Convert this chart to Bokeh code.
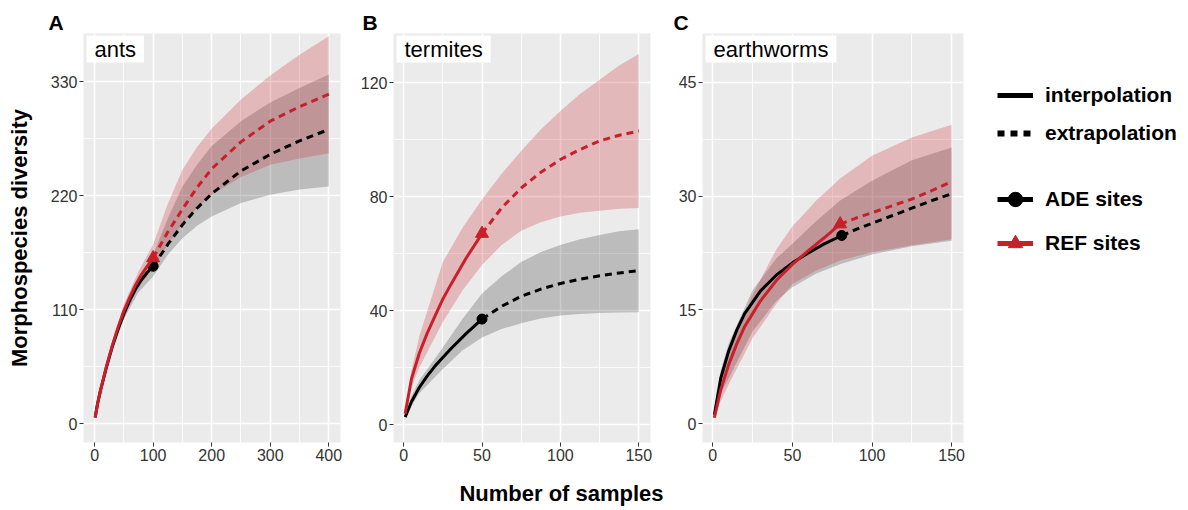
from bokeh.plotting import figure
from bokeh.layouts import row, column
from bokeh.models import FixedTicker, Label, Legend, LegendItem, Range1d
from bokeh.embed import file_html
from bokeh.resources import INLINE

# ---------------- data ----------------
# A: ants
ants_ade_int_x = [1, 5, 10, 20, 30, 40, 50, 60, 70, 80, 90, 100]
ants_ade_int_y = [6, 19, 32, 54, 74, 91, 106, 119, 130, 139, 146, 152]
ants_ref_int_x = [1, 5, 10, 20, 30, 40, 50, 60, 70, 80, 90, 100]
ants_ref_int_y = [6, 19, 32, 55, 75, 93, 109, 122, 134, 144, 152, 160]
ants_ade_ext_x = [100, 125, 150, 175, 200, 250, 300, 350, 400]
ants_ade_ext_y = [152, 173, 192, 208, 222, 244, 260, 273, 284]
ants_ref_ext_x = [100, 125, 150, 175, 200, 250, 300, 350, 400]
ants_ref_ext_y = [160, 185, 207, 228, 246, 272, 292, 306, 318]
ants_band_x = [1, 25, 50, 75, 100, 125, 150, 175, 200, 250, 300, 350, 400]
ants_ref_lo = [6, 62, 104, 132, 150, 173, 193, 208, 221, 238, 250, 256, 261]
ants_ref_hi = [6, 68, 115, 147, 173, 212, 245, 267, 285, 313, 336, 356, 374]
ants_ade_lo = [6, 62, 101, 127, 142, 163, 179, 191, 200, 213, 221, 226, 229]
ants_ade_hi = [6, 67, 111, 141, 163, 198, 229, 250, 268, 292, 310, 324, 337]

# B: termites
term_ade_int_x = [1, 5, 10, 15, 20, 25, 30, 40, 50]
term_ade_int_y = [2.6, 8, 13, 17, 20.5, 23.5, 26.5, 32, 37]
term_ref_int_x = [1, 5, 10, 15, 20, 25, 30, 40, 50]
term_ref_int_y = [3.8, 16, 25, 32, 38, 44, 49, 58.5, 67]
term_ade_ext_x = [50, 62.5, 75, 87.5, 100, 112.5, 125, 137.5, 150]
term_ade_ext_y = [37, 41.5, 45, 47.5, 49.5, 51, 52.2, 53.2, 54]
term_ref_ext_x = [50, 62.5, 75, 87.5, 100, 112.5, 125, 137.5, 150]
term_ref_ext_y = [67, 76, 83, 88.5, 93, 96.5, 99.5, 101.5, 103]
term_band_x = [1, 5, 10, 25, 37.5, 50, 62.5, 75, 87.5, 100, 112.5, 125, 137.5, 150]
term_ref_lo = [3.8, 13, 20, 36, 47, 56, 63, 68, 71, 73, 74.3, 75, 75.7, 76]
term_ref_hi = [3.8, 19, 31, 57, 69, 79, 88, 96, 103.5, 110, 116, 121, 126, 130]
term_ade_lo = [2.6, 6.5, 11, 19.5, 26, 30.5, 33.5, 35.5, 37.2, 38.3, 38.8, 39.1, 39.3, 39.4]
term_ade_hi = [2.6, 10, 15.5, 27, 37, 46, 52, 57, 60.5, 63, 65, 66.5, 67.8, 68.5]

# C: earthworms
ew_ade_int_x = [1, 5, 10, 15, 20, 30, 40, 50, 60, 70, 81]
ew_ade_int_y = [1.2, 6, 9.6, 12.3, 14.5, 17.5, 19.6, 21.2, 22.5, 23.7, 24.8]
ew_ref_int_x = [1, 5, 10, 15, 20, 30, 40, 50, 60, 70, 80]
ew_ref_int_y = [0.8, 4.5, 7.8, 10.5, 12.8, 16.2, 18.9, 21.0, 22.8, 24.5, 26.3]
ew_ade_ext_x = [81, 90, 100, 112.5, 125, 137.5, 150]
ew_ade_ext_y = [24.8, 25.6, 26.4, 27.4, 28.4, 29.4, 30.3]
ew_ref_ext_x = [80, 90, 100, 112.5, 125, 137.5, 150]
ew_ref_ext_y = [26.3, 27.1, 27.8, 28.7, 29.6, 30.7, 31.9]
ew_band_x = [1, 5, 10, 25, 40, 50, 65, 80, 100, 125, 150]
ew_ref_lo = [0.8, 3, 5.2, 11.3, 15.8, 18.4, 20.2, 21.5, 22.6, 23.5, 24.3]
ew_ref_hi = [0.8, 5.8, 9.5, 17.0, 23.0, 26.0, 29.4, 32.3, 35.3, 37.7, 39.4]
ew_ade_lo = [1.2, 4, 6, 12.2, 16.2, 18, 19.8, 21, 22.3, 23.4, 24.1]
ew_ade_hi = [1.2, 7, 10.6, 17.6, 21.8, 23.7, 26.7, 29.4, 32, 34.7, 36.4]

# ticks
ants_xticks, ants_xminor = [0, 100, 200, 300, 400], [50, 150, 250, 350]
ants_yticks, ants_yminor = [0, 110, 220, 330], [55, 165, 275]
term_xticks, term_xminor = [0, 50, 100, 150], [25, 75, 125]
term_yticks, term_yminor = [0, 40, 80, 120], [20, 60, 100]
ew_xticks, ew_xminor = [0, 50, 100, 150], [25, 75, 125]
ew_yticks, ew_yminor = [0, 15, 30, 45], [7.5, 22.5, 37.5]

panel_names = ["ants", "termites", "earthworms"]
panel_letters = ["A", "B", "C"]
legend_line_labels = ["interpolation", "extrapolation"]
legend_site_labels = ["ADE sites", "REF sites"]

RED = "#C8202A"
BG = "#EBEBEB"
FONT = "Liberation Sans"
TXT = "#333333"
ROW_H = 439


def panel(width, bl, br, xr, yr, xt, xm, yt, ym, name, d, ylabel=None):
    p = figure(width=width, height=ROW_H, x_range=Range1d(*xr), y_range=Range1d(*yr),
               output_backend="svg", toolbar_location=None,
               min_border_left=bl, min_border_right=br, min_border_top=0, min_border_bottom=30)
    p.background_fill_color = BG
    p.border_fill_color = "white"
    p.outline_line_color = None
    xtk = FixedTicker(ticks=xt, minor_ticks=xm)
    ytk = FixedTicker(ticks=yt, minor_ticks=ym)
    p.xaxis.ticker = xtk
    p.yaxis.ticker = ytk
    p.xgrid.ticker = xtk
    p.ygrid.ticker = ytk
    for g in (p.xgrid[0], p.ygrid[0]):
        g.grid_line_color = "white"
        g.grid_line_width = 1.6
        g.minor_grid_line_color = "white"
        g.minor_grid_line_width = 0.8
    for ax in (p.xaxis[0], p.yaxis[0]):
        ax.axis_line_color = None
        ax.major_tick_line_color = TXT
        ax.major_tick_out = 4
        ax.major_tick_in = 0
        ax.minor_tick_line_color = None
        ax.major_label_text_font = FONT
        ax.major_label_text_font_size = "16px"
        ax.major_label_text_color = TXT
        ax.major_label_standoff = 2
    if ylabel:
        p.yaxis.axis_label = ylabel
        p.yaxis.axis_label_text_font = FONT
        p.yaxis.axis_label_text_font_style = "bold"
        p.yaxis.axis_label_text_font_size = "22px"
        p.yaxis.axis_label_text_color = "black"
        p.yaxis.axis_label_standoff = 16

    p.varea(x=d["bx"], y1=d["alo"], y2=d["ahi"], fill_color="black", fill_alpha=0.2)
    p.varea(x=d["bx"], y1=d["rlo"], y2=d["rhi"], fill_color=RED, fill_alpha=0.25)
    p.line(d["aix"], d["aiy"], line_color="black", line_width=3)
    p.line(d["aex"], d["aey"], line_color="black", line_width=3, line_dash="7 5")
    p.scatter([d["aix"][-1]], [d["aiy"][-1]], marker="circle", size=10, color="black")
    p.line(d["rix"], d["riy"], line_color=RED, line_width=3)
    p.line(d["rex"], d["rey"], line_color=RED, line_width=3, line_dash="7 5")
    p.scatter([d["rix"][-1]], [d["riy"][-1]], marker="triangle", size=13, color=RED)

    p.add_layout(Label(x=3, y=ROW_H - 30 - 2, x_units="screen", y_units="screen", text=name,
                       text_font=FONT, text_font_size="22px", text_color="black",
                       text_baseline="top", background_fill_color="white",
                       padding=dict(left=8, right=8, top=1, bottom=1)))
    return p


pA = panel(350, 83, 10, (-18.95, 419.95), (-18.1, 376.6), ants_xticks, ants_xminor,
           ants_yticks, ants_yminor, panel_names[0],
           dict(bx=ants_band_x, alo=ants_ade_lo, ahi=ants_ade_hi, rlo=ants_ref_lo, rhi=ants_ref_hi,
                aix=ants_ade_int_x, aiy=ants_ade_int_y, aex=ants_ade_ext_x, aey=ants_ade_ext_y,
                rix=ants_ref_int_x, riy=ants_ref_int_y, rex=ants_ref_ext_x, rey=ants_ref_ext_y),
           ylabel="Morphospecies diversity")
pB = panel(310, 43, 10, (-6.45, 157.45), (-6.3, 137.2), term_xticks, term_xminor,
           term_yticks, term_yminor, panel_names[1],
           dict(bx=term_band_x, alo=term_ade_lo, ahi=term_ade_hi, rlo=term_ref_lo, rhi=term_ref_hi,
                aix=term_ade_int_x, aiy=term_ade_int_y, aex=term_ade_ext_x, aey=term_ade_ext_y,
                rix=term_ref_int_x, riy=term_ref_int_y, rex=term_ref_ext_x, rey=term_ref_ext_y))
pC = panel(315, 42, 12, (-6.45, 157.45), (-2.46, 51.4), ew_xticks, ew_xminor,
           ew_yticks, ew_yminor, panel_names[2],
           dict(bx=ew_band_x, alo=ew_ade_lo, ahi=ew_ade_hi, rlo=ew_ref_lo, rhi=ew_ref_hi,
                aix=ew_ade_int_x, aiy=ew_ade_int_y, aex=ew_ade_ext_x, aey=ew_ade_ext_y,
                rix=ew_ref_int_x, riy=ew_ref_int_y, rex=ew_ref_ext_x, rey=ew_ref_ext_y))

# ---------------- legend panel ----------------
lg = figure(width=212, height=ROW_H, x_range=Range1d(0, 1), y_range=Range1d(0, 1),
            x_axis_location=None, y_axis_location=None, min_border=0,
            output_backend="svg", toolbar_location=None)
lg.outline_line_color = None
lg.grid.visible = False
lg.background_fill_color = "white"
proxy = [-5]  # off-range proxy point so legend glyphs get drawn
r1 = lg.line(x=proxy, y=proxy, line_color="black", line_width=5)
r2 = lg.line(x=proxy, y=proxy, line_color="black", line_width=6, line_dash="7 6")
r3 = lg.line(x=proxy, y=proxy, line_color="black", line_width=5)
r3m = lg.scatter(x=proxy, y=proxy, marker="circle", color="black")
r4 = lg.line(x=proxy, y=proxy, line_color=RED, line_width=5)
r4m = lg.scatter(x=proxy, y=proxy, marker="triangle", color=RED)

common = dict(border_line_color=None, background_fill_alpha=0, padding=0, margin=0,
              glyph_width=36, label_standoff=12, label_text_font=FONT,
              label_text_font_size="21px", label_text_font_style="bold",
              label_text_color="black")
leg1 = Legend(items=[LegendItem(label=legend_line_labels[0], renderers=[r1]),
                     LegendItem(label=legend_line_labels[1], renderers=[r2])],
              location=(22, 297), glyph_height=24, label_height=24, spacing=14, **common)
leg2 = Legend(items=[LegendItem(label=legend_site_labels[0], renderers=[r3, r3m]),
                     LegendItem(label=legend_site_labels[1], renderers=[r4, r4m])],
              location=(22, 178), glyph_height=42, label_height=42, spacing=2, **common)
lg.add_layout(leg1)
lg.add_layout(leg2)

# ---------------- top strip: panel letters ----------------
tp = figure(width=1187, height=33, x_range=Range1d(0, 1), y_range=Range1d(0, 1),
            x_axis_location=None, y_axis_location=None, min_border=0,
            output_backend="svg", toolbar_location=None)
tp.outline_line_color = None
tp.grid.visible = False
for lx, letter in zip([48, 362, 673], panel_letters):
    tp.add_layout(Label(x=lx, y=23, x_units="screen", y_units="screen", text=letter,
                        text_font=FONT, text_font_style="bold", text_font_size="21px",
                        text_color="black", text_baseline="top"))

# ---------------- bottom strip: x label ----------------
bt = figure(width=1187, height=37, x_range=Range1d(0, 1), y_range=Range1d(0, 1),
            x_axis_location=None, y_axis_location=None, min_border=0,
            output_backend="svg", toolbar_location=None)
bt.outline_line_color = None
bt.grid.visible = False
bt.add_layout(Label(x=561, y=29, x_units="screen", y_units="screen", text="Number of samples",
                    text_align="center", text_baseline="top", text_font=FONT,
                    text_font_style="bold", text_font_size="22px", text_color="black"))

layout = column(tp, row(pA, pB, pC, lg), bt)
open("out.html", "w").write(file_html(layout, INLINE))
